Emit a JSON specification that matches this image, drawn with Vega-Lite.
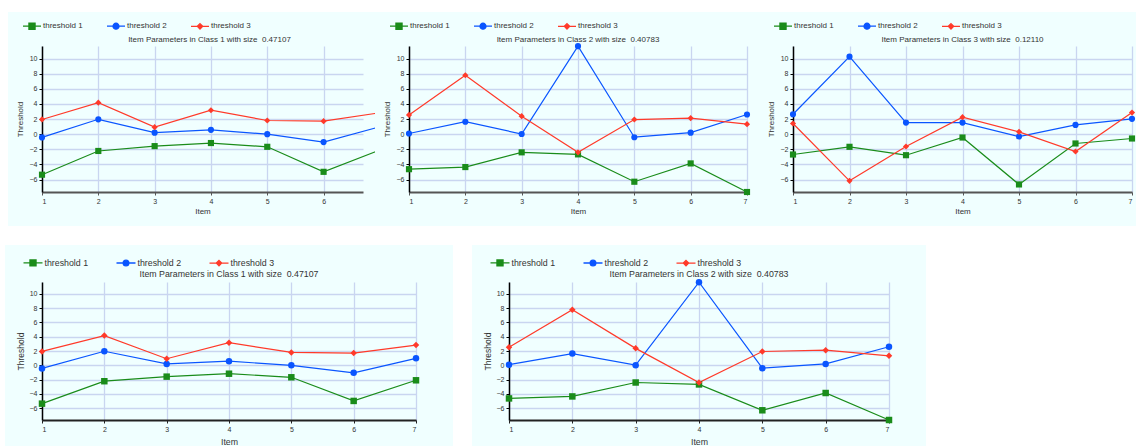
{
  "$schema": "https://vega.github.io/schema/vega-lite/v6.json",
  "background": "white",
  "padding": {"left": -21, "top": -18, "right": 0, "bottom": 0},
  "autosize": {"type": "pad"},
  "config": {
    "font": "Liberation Sans",
    "axis": {"labelFontSize": 7, "labelColor": "#333", "titleFontSize": 8, "titleFontWeight": "normal", "titleColor": "#333", "gridColor": "#c9d5f0", "gridWidth": 1.3, "gridOpacity": 1, "tickSize": 3},
    "legend": {"labelFontSize": 8, "labelColor": "#333"},
    "title": {"fontSize": 8, "fontWeight": "normal", "color": "#333"}
  },
  "datasets": {
    "d": [
      {"c": 1, "item": 1, "t": "threshold 1", "v": -5.36}, {"c": 1, "item": 2, "t": "threshold 1", "v": -2.22}, {"c": 1, "item": 3, "t": "threshold 1", "v": -1.58}, {"c": 1, "item": 4, "t": "threshold 1", "v": -1.17}, {"c": 1, "item": 5, "t": "threshold 1", "v": -1.67}, {"c": 1, "item": 6, "t": "threshold 1", "v": -4.98}, {"c": 1, "item": 7, "t": "threshold 1", "v": -2.09},
      {"c": 1, "item": 1, "t": "threshold 2", "v": -0.43}, {"c": 1, "item": 2, "t": "threshold 2", "v": 1.97}, {"c": 1, "item": 3, "t": "threshold 2", "v": 0.2}, {"c": 1, "item": 4, "t": "threshold 2", "v": 0.58}, {"c": 1, "item": 5, "t": "threshold 2", "v": 0.0}, {"c": 1, "item": 6, "t": "threshold 2", "v": -1.04}, {"c": 1, "item": 7, "t": "threshold 2", "v": 0.98},
      {"c": 1, "item": 1, "t": "threshold 3", "v": 1.95}, {"c": 1, "item": 2, "t": "threshold 3", "v": 4.17}, {"c": 1, "item": 3, "t": "threshold 3", "v": 0.93}, {"c": 1, "item": 4, "t": "threshold 3", "v": 3.17}, {"c": 1, "item": 5, "t": "threshold 3", "v": 1.81}, {"c": 1, "item": 6, "t": "threshold 3", "v": 1.72}, {"c": 1, "item": 7, "t": "threshold 3", "v": 2.84},
      {"c": 2, "item": 1, "t": "threshold 1", "v": -4.63}, {"c": 2, "item": 2, "t": "threshold 1", "v": -4.35}, {"c": 2, "item": 3, "t": "threshold 1", "v": -2.4}, {"c": 2, "item": 4, "t": "threshold 1", "v": -2.67}, {"c": 2, "item": 5, "t": "threshold 1", "v": -6.29}, {"c": 2, "item": 6, "t": "threshold 1", "v": -3.87}, {"c": 2, "item": 7, "t": "threshold 1", "v": -7.65},
      {"c": 2, "item": 1, "t": "threshold 2", "v": 0.09}, {"c": 2, "item": 2, "t": "threshold 2", "v": 1.65}, {"c": 2, "item": 3, "t": "threshold 2", "v": 0.02}, {"c": 2, "item": 4, "t": "threshold 2", "v": 11.65}, {"c": 2, "item": 5, "t": "threshold 2", "v": -0.4}, {"c": 2, "item": 6, "t": "threshold 2", "v": 0.2}, {"c": 2, "item": 7, "t": "threshold 2", "v": 2.6},
      {"c": 2, "item": 1, "t": "threshold 3", "v": 2.55}, {"c": 2, "item": 2, "t": "threshold 3", "v": 7.8}, {"c": 2, "item": 3, "t": "threshold 3", "v": 2.38}, {"c": 2, "item": 4, "t": "threshold 3", "v": -2.4}, {"c": 2, "item": 5, "t": "threshold 3", "v": 1.94}, {"c": 2, "item": 6, "t": "threshold 3", "v": 2.12}, {"c": 2, "item": 7, "t": "threshold 3", "v": 1.33},
      {"c": 3, "item": 1, "t": "threshold 1", "v": -2.69}, {"c": 3, "item": 2, "t": "threshold 1", "v": -1.67}, {"c": 3, "item": 3, "t": "threshold 1", "v": -2.78}, {"c": 3, "item": 4, "t": "threshold 1", "v": -0.44}, {"c": 3, "item": 5, "t": "threshold 1", "v": -6.65}, {"c": 3, "item": 6, "t": "threshold 1", "v": -1.23}, {"c": 3, "item": 7, "t": "threshold 1", "v": -0.57},
      {"c": 3, "item": 1, "t": "threshold 2", "v": 2.64}, {"c": 3, "item": 2, "t": "threshold 2", "v": 10.26}, {"c": 3, "item": 3, "t": "threshold 2", "v": 1.54}, {"c": 3, "item": 4, "t": "threshold 2", "v": 1.54}, {"c": 3, "item": 5, "t": "threshold 2", "v": -0.31}, {"c": 3, "item": 6, "t": "threshold 2", "v": 1.23}, {"c": 3, "item": 7, "t": "threshold 2", "v": 2.03},
      {"c": 3, "item": 1, "t": "threshold 3", "v": 1.41}, {"c": 3, "item": 2, "t": "threshold 3", "v": -6.17}, {"c": 3, "item": 3, "t": "threshold 3", "v": -1.63}, {"c": 3, "item": 4, "t": "threshold 3", "v": 2.25}, {"c": 3, "item": 5, "t": "threshold 3", "v": 0.31}, {"c": 3, "item": 6, "t": "threshold 3", "v": -2.29}, {"c": 3, "item": 7, "t": "threshold 3", "v": 2.86}
    ]
  },
  "data": {"name": "d"},
  "spacing": -34,
  "resolve": {"scale": {"color": "independent", "x": "independent"}, "legend": {"color": "independent"}},
  "vconcat": [
    {
      "bounds": "flush",
      "spacing": 46,
      "resolve": {"scale": {"color": "independent", "x": "independent"}, "legend": {"color": "independent"}},
      "hconcat": [
        {
          "width": 321, "height": 146,
          "view": {"fill": "#f0ffff", "stroke": "#f0ffff", "strokeWidth": 68},
          "title": {"text": "Item Parameters in Class 1 with size \u00a00.47107", "offset": -28, "anchor": "middle", "frame": "group", "dx": 7},
          "transform": [{"filter": "datum.c == 1"}],
          "encoding": {
            "x": {"field": "item", "type": "quantitative", "scale": {"domain": [1, 6.7], "nice": false, "zero": false}, "axis": {"title": "Item", "values": [1, 2, 3, 4, 5, 6], "format": "d", "domainColor": "#555", "domainWidth": 2, "tickColor": "#555", "titlePadding": 3}},
            "y": {"field": "v", "type": "quantitative", "scale": {"domain": [-7.65, 11.67], "nice": false, "zero": false}, "axis": {"title": "Threshold", "values": [-6, -4, -2, 0, 2, 4, 6, 8, 10], "domainColor": "#000", "domainWidth": 1.5, "tickColor": "#000", "titlePadding": 5}},
            "color": {"field": "t", "type": "nominal", "scale": {"domain": ["threshold 1", "threshold 2", "threshold 3"], "range": ["#1a8c1a", "#0a55ff", "#ff3a2a"]},
              "legend": {"orient": "none", "legendX": -20, "legendY": -30, "direction": "horizontal", "title": null, "symbolSize": 324, "symbolStrokeWidth": 1.3, "columnPadding": 21, "labelOffset": 1, "padding": 0,
                "encode": {"symbols": {"update": {
                  "shape": {"signal": "datum.value === 'threshold 1' ? 'M-1,0H1M-0.34,-0.34H0.34V0.34H-0.34Z' : datum.value === 'threshold 2' ? 'M-1,0H1M0.33,0A0.33,0.33,0,1,1,-0.33,0A0.33,0.33,0,1,1,0.33,0Z' : 'M-1,0H1M0,-0.3L0.3,0L0,0.3L-0.3,0Z'"},
                  "fill": {"signal": "datum.value === 'threshold 1' ? '#1a8c1a' : datum.value === 'threshold 2' ? '#0a55ff' : '#ff3a2a'"},
                  "stroke": {"signal": "datum.value === 'threshold 1' ? '#1a8c1a' : datum.value === 'threshold 2' ? '#0a55ff' : '#ff3a2a'"},
                  "opacity": {"value": 1}, "fillOpacity": {"value": 1}, "strokeWidth": {"value": 1.3}}}}}}
          },
          "layer": [
            {"mark": {"type": "line", "strokeWidth": 1.2}},
            {"transform": [{"filter": "datum.t == 'threshold 1'"}], "mark": {"type": "point", "shape": "square", "filled": true, "opacity": 1, "size": 38}},
            {"transform": [{"filter": "datum.t == 'threshold 2'"}], "mark": {"type": "point", "shape": "circle", "filled": true, "opacity": 1, "size": 38}},
            {"transform": [{"filter": "datum.t == 'threshold 3'"}], "mark": {"type": "point", "shape": "diamond", "filled": true, "opacity": 1, "size": 38}}
          ]
        },
        {
          "width": 338, "height": 146,
          "view": {"fill": "#f0ffff", "stroke": "#f0ffff", "strokeWidth": 68},
          "title": {"text": "Item Parameters in Class 2 with size \u00a00.40783", "offset": -28, "anchor": "middle", "frame": "group"},
          "transform": [{"filter": "datum.c == 2"}],
          "encoding": {
            "x": {"field": "item", "type": "quantitative", "scale": {"domain": [1, 7], "nice": false, "zero": false}, "axis": {"title": "Item", "values": [1, 2, 3, 4, 5, 6, 7], "format": "d", "domainColor": "#555", "domainWidth": 2, "tickColor": "#555", "titlePadding": 3}},
            "y": {"field": "v", "type": "quantitative", "scale": {"domain": [-7.65, 11.67], "nice": false, "zero": false}, "axis": {"title": "Threshold", "values": [-6, -4, -2, 0, 2, 4, 6, 8, 10], "domainColor": "#000", "domainWidth": 1.5, "tickColor": "#000", "titlePadding": 5}},
            "color": {"field": "t", "type": "nominal", "scale": {"domain": ["threshold 1", "threshold 2", "threshold 3"], "range": ["#1a8c1a", "#0a55ff", "#ff3a2a"]},
              "legend": {"orient": "none", "legendX": -20, "legendY": -30, "direction": "horizontal", "title": null, "symbolSize": 324, "symbolStrokeWidth": 1.3, "columnPadding": 21, "labelOffset": 1, "padding": 0,
                "encode": {"symbols": {"update": {
                  "shape": {"signal": "datum.value === 'threshold 1' ? 'M-1,0H1M-0.34,-0.34H0.34V0.34H-0.34Z' : datum.value === 'threshold 2' ? 'M-1,0H1M0.33,0A0.33,0.33,0,1,1,-0.33,0A0.33,0.33,0,1,1,0.33,0Z' : 'M-1,0H1M0,-0.3L0.3,0L0,0.3L-0.3,0Z'"},
                  "fill": {"signal": "datum.value === 'threshold 1' ? '#1a8c1a' : datum.value === 'threshold 2' ? '#0a55ff' : '#ff3a2a'"},
                  "stroke": {"signal": "datum.value === 'threshold 1' ? '#1a8c1a' : datum.value === 'threshold 2' ? '#0a55ff' : '#ff3a2a'"},
                  "opacity": {"value": 1}, "fillOpacity": {"value": 1}, "strokeWidth": {"value": 1.3}}}}}}
          },
          "layer": [
            {"mark": {"type": "line", "strokeWidth": 1.2}},
            {"transform": [{"filter": "datum.t == 'threshold 1'"}], "mark": {"type": "point", "shape": "square", "filled": true, "opacity": 1, "size": 38}},
            {"transform": [{"filter": "datum.t == 'threshold 2'"}], "mark": {"type": "point", "shape": "circle", "filled": true, "opacity": 1, "size": 38}},
            {"transform": [{"filter": "datum.t == 'threshold 3'"}], "mark": {"type": "point", "shape": "diamond", "filled": true, "opacity": 1, "size": 38}}
          ]
        },
        {
          "width": 339, "height": 146,
          "view": {"fill": "#f0ffff", "stroke": "#f0ffff", "strokeWidth": 68},
          "title": {"text": "Item Parameters in Class 3 with size \u00a00.12110", "offset": -28, "anchor": "middle", "frame": "group"},
          "transform": [{"filter": "datum.c == 3"}],
          "encoding": {
            "x": {"field": "item", "type": "quantitative", "scale": {"domain": [1, 7], "nice": false, "zero": false}, "axis": {"title": "Item", "values": [1, 2, 3, 4, 5, 6, 7], "format": "d", "domainColor": "#555", "domainWidth": 2, "tickColor": "#555", "titlePadding": 3}},
            "y": {"field": "v", "type": "quantitative", "scale": {"domain": [-7.65, 11.67], "nice": false, "zero": false}, "axis": {"title": "Threshold", "values": [-6, -4, -2, 0, 2, 4, 6, 8, 10], "domainColor": "#000", "domainWidth": 1.5, "tickColor": "#000", "titlePadding": 5}},
            "color": {"field": "t", "type": "nominal", "scale": {"domain": ["threshold 1", "threshold 2", "threshold 3"], "range": ["#1a8c1a", "#0a55ff", "#ff3a2a"]},
              "legend": {"orient": "none", "legendX": -20, "legendY": -30, "direction": "horizontal", "title": null, "symbolSize": 324, "symbolStrokeWidth": 1.3, "columnPadding": 21, "labelOffset": 1, "padding": 0,
                "encode": {"symbols": {"update": {
                  "shape": {"signal": "datum.value === 'threshold 1' ? 'M-1,0H1M-0.34,-0.34H0.34V0.34H-0.34Z' : datum.value === 'threshold 2' ? 'M-1,0H1M0.33,0A0.33,0.33,0,1,1,-0.33,0A0.33,0.33,0,1,1,0.33,0Z' : 'M-1,0H1M0,-0.3L0.3,0L0,0.3L-0.3,0Z'"},
                  "fill": {"signal": "datum.value === 'threshold 1' ? '#1a8c1a' : datum.value === 'threshold 2' ? '#0a55ff' : '#ff3a2a'"},
                  "stroke": {"signal": "datum.value === 'threshold 1' ? '#1a8c1a' : datum.value === 'threshold 2' ? '#0a55ff' : '#ff3a2a'"},
                  "opacity": {"value": 1}, "fillOpacity": {"value": 1}, "strokeWidth": {"value": 1.3}}}}}}
          },
          "layer": [
            {"mark": {"type": "line", "strokeWidth": 1.2}},
            {"transform": [{"filter": "datum.t == 'threshold 1'"}], "mark": {"type": "point", "shape": "square", "filled": true, "opacity": 1, "size": 38}},
            {"transform": [{"filter": "datum.t == 'threshold 2'"}], "mark": {"type": "point", "shape": "circle", "filled": true, "opacity": 1, "size": 38}},
            {"transform": [{"filter": "datum.t == 'threshold 3'"}], "mark": {"type": "point", "shape": "diamond", "filled": true, "opacity": 1, "size": 38}}
          ]
        }
      ]
    },
    {
      "bounds": "flush",
      "spacing": 93,
      "resolve": {"scale": {"color": "independent", "x": "independent"}, "legend": {"color": "independent"}},
      "hconcat": [
        {
          "width": 374, "height": 138,
          "view": {"fill": "#f0ffff", "stroke": "#f0ffff", "strokeWidth": 74},
          "title": {"text": "Item Parameters in Class 1 with size \u00a00.47107", "offset": -27, "anchor": "middle", "frame": "group", "fontSize": 8.8},
          "transform": [{"filter": "datum.c == 1"}],
          "encoding": {
            "x": {"field": "item", "type": "quantitative", "scale": {"domain": [1, 7], "nice": false, "zero": false}, "axis": {"title": "Item", "values": [1, 2, 3, 4, 5, 6, 7], "format": "d", "domainColor": "#222", "domainWidth": 2, "tickColor": "#222", "titlePadding": 5, "titleFontSize": 8.8}},
            "y": {"field": "v", "type": "quantitative", "scale": {"domain": [-7.65, 11.67], "nice": false, "zero": false}, "axis": {"title": "Threshold", "values": [-6, -4, -2, 0, 2, 4, 6, 8, 10], "domainColor": "#000", "domainWidth": 1.5, "tickColor": "#000", "titlePadding": 4, "titleFontSize": 8.5}},
            "color": {"field": "t", "type": "nominal", "scale": {"domain": ["threshold 1", "threshold 2", "threshold 3"], "range": ["#1a8c1a", "#0a55ff", "#ff3a2a"]},
              "legend": {"orient": "none", "legendX": -19.5, "legendY": -30, "direction": "horizontal", "title": null, "symbolSize": 361, "symbolStrokeWidth": 1.3, "columnPadding": 25, "labelOffset": 1, "padding": 0, "labelFontSize": 8.8,
                "encode": {"symbols": {"update": {
                  "shape": {"signal": "datum.value === 'threshold 1' ? 'M-1,0H1M-0.32,-0.32H0.32V0.32H-0.32Z' : datum.value === 'threshold 2' ? 'M-1,0H1M0.3,0A0.3,0.3,0,1,1,-0.3,0A0.3,0.3,0,1,1,0.3,0Z' : 'M-1,0H1M0,-0.28L0.28,0L0,0.28L-0.28,0Z'"},
                  "fill": {"signal": "datum.value === 'threshold 1' ? '#1a8c1a' : datum.value === 'threshold 2' ? '#0a55ff' : '#ff3a2a'"},
                  "stroke": {"signal": "datum.value === 'threshold 1' ? '#1a8c1a' : datum.value === 'threshold 2' ? '#0a55ff' : '#ff3a2a'"},
                  "opacity": {"value": 1}, "fillOpacity": {"value": 1}, "strokeWidth": {"value": 1.3}}}}}}
          },
          "layer": [
            {"mark": {"type": "line", "strokeWidth": 1.2}},
            {"transform": [{"filter": "datum.t == 'threshold 1'"}], "mark": {"type": "point", "shape": "square", "filled": true, "opacity": 1, "size": 42}},
            {"transform": [{"filter": "datum.t == 'threshold 2'"}], "mark": {"type": "point", "shape": "circle", "filled": true, "opacity": 1, "size": 42}},
            {"transform": [{"filter": "datum.t == 'threshold 3'"}], "mark": {"type": "point", "shape": "diamond", "filled": true, "opacity": 1, "size": 42}}
          ]
        },
        {
          "width": 380, "height": 138,
          "view": {"fill": "#f0ffff", "stroke": "#f0ffff", "strokeWidth": 74},
          "title": {"text": "Item Parameters in Class 2 with size \u00a00.40783", "offset": -27, "anchor": "middle", "frame": "group", "fontSize": 8.8},
          "transform": [{"filter": "datum.c == 2"}],
          "encoding": {
            "x": {"field": "item", "type": "quantitative", "scale": {"domain": [1, 7], "nice": false, "zero": false}, "axis": {"title": "Item", "values": [1, 2, 3, 4, 5, 6, 7], "format": "d", "domainColor": "#222", "domainWidth": 2, "tickColor": "#222", "titlePadding": 5, "titleFontSize": 8.8}},
            "y": {"field": "v", "type": "quantitative", "scale": {"domain": [-7.65, 11.67], "nice": false, "zero": false}, "axis": {"title": "Threshold", "values": [-6, -4, -2, 0, 2, 4, 6, 8, 10], "domainColor": "#000", "domainWidth": 1.5, "tickColor": "#000", "titlePadding": 4, "titleFontSize": 8.5}},
            "color": {"field": "t", "type": "nominal", "scale": {"domain": ["threshold 1", "threshold 2", "threshold 3"], "range": ["#1a8c1a", "#0a55ff", "#ff3a2a"]},
              "legend": {"orient": "none", "legendX": -19.5, "legendY": -30, "direction": "horizontal", "title": null, "symbolSize": 361, "symbolStrokeWidth": 1.3, "columnPadding": 25, "labelOffset": 1, "padding": 0, "labelFontSize": 8.8,
                "encode": {"symbols": {"update": {
                  "shape": {"signal": "datum.value === 'threshold 1' ? 'M-1,0H1M-0.32,-0.32H0.32V0.32H-0.32Z' : datum.value === 'threshold 2' ? 'M-1,0H1M0.3,0A0.3,0.3,0,1,1,-0.3,0A0.3,0.3,0,1,1,0.3,0Z' : 'M-1,0H1M0,-0.28L0.28,0L0,0.28L-0.28,0Z'"},
                  "fill": {"signal": "datum.value === 'threshold 1' ? '#1a8c1a' : datum.value === 'threshold 2' ? '#0a55ff' : '#ff3a2a'"},
                  "stroke": {"signal": "datum.value === 'threshold 1' ? '#1a8c1a' : datum.value === 'threshold 2' ? '#0a55ff' : '#ff3a2a'"},
                  "opacity": {"value": 1}, "fillOpacity": {"value": 1}, "strokeWidth": {"value": 1.3}}}}}}
          },
          "layer": [
            {"mark": {"type": "line", "strokeWidth": 1.2}},
            {"transform": [{"filter": "datum.t == 'threshold 1'"}], "mark": {"type": "point", "shape": "square", "filled": true, "opacity": 1, "size": 42}},
            {"transform": [{"filter": "datum.t == 'threshold 2'"}], "mark": {"type": "point", "shape": "circle", "filled": true, "opacity": 1, "size": 42}},
            {"transform": [{"filter": "datum.t == 'threshold 3'"}], "mark": {"type": "point", "shape": "diamond", "filled": true, "opacity": 1, "size": 42}}
          ]
        }
      ]
    }
  ]
}
